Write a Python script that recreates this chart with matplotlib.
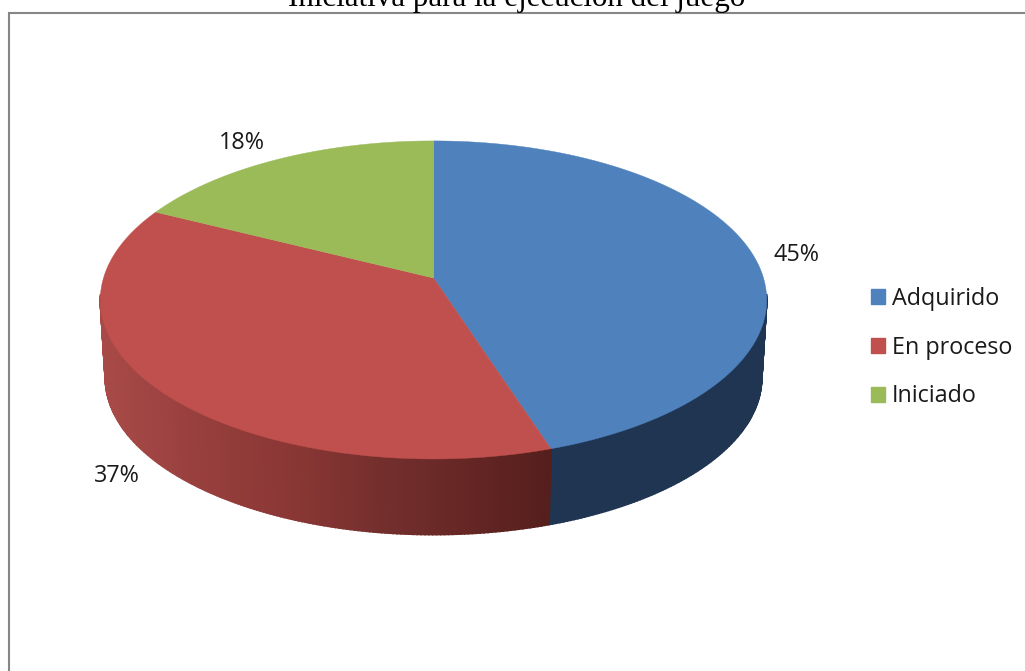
# Pie chart drawn with a tilted perspective, since the original is a 3D spreadsheet pie
import numpy as np
import matplotlib
matplotlib.use('Agg')
import matplotlib.pyplot as plt
from matplotlib.patches import Polygon, Rectangle, Patch

title = 'Iniciativa para la ejecución del juego'
categories = ['Adquirido', 'En proceso', 'Iniciado']
values = [45, 37.4, 17.6]
top_colors = ['#4F81BD', '#C0504D', '#9BBB59']

# side wall shading, by horizontal position
red_x = [100, 200, 300, 380, 450, 550]
red_shades = ['#A84A48', '#973F3D', '#883634', '#742F2D', '#682826', '#551F1D']
blue_side = '#1F3552'


def hex2rgb(c):
    return np.array(matplotlib.colors.to_rgb(c))


# perspective projection of the unit circle into pixels
cx, cy = 433.5, 278.
A, B, a = 330., 156., 0.138


def project(theta):
    u, v = np.sin(theta), np.cos(theta)
    w = 1 + a*v
    return cx + A*u/w, cy - B*v/w


def project_low(theta):
    x, y = project(theta)
    return cx + 0.985*(x-cx), 378 + 0.985*(y-300)


fig = plt.figure(figsize=(10.25, 6.71), dpi=100)
ax = fig.add_axes([0, 0, 1, 1])
ax.set_xlim(0, 1025)
ax.set_ylim(671, 0)
ax.axis('off')

ax.add_patch(Rectangle((9, 13), 1100, 800, fc='white', ec='#868686', lw=1.5))

edges = np.cumsum([0]+values)/np.sum(values)*2*np.pi

# side wall, only the front part of each slice shows
for i in range(len(values)):
    thetas = np.linspace(edges[i], edges[i+1], int(values[i]*6))
    for t0, t1 in zip(thetas[:-1], thetas[1:]):
        if np.cos((t0+t1)/2) > -0.1:
            continue
        x0, y0 = project(t0)
        x1, y1 = project(t1)
        x2, y2 = project_low(t1)
        x3, y3 = project_low(t0)
        if i == 0:
            col = blue_side
        elif i == 1:
            col = [np.interp((x0+x1)/2, red_x, [hex2rgb(c)[k] for c in red_shades]) for k in range(3)]
        else:
            col = top_colors[i]
        ax.add_patch(Polygon([(x0, y0), (x1, y1), (x2, y2), (x3, y3)], fc=col, ec=col, lw=1.2, zorder=2))

# top face
for i in range(len(values)):
    thetas = np.linspace(edges[i], edges[i+1], 200)
    xs, ys = project(thetas)
    pts = [(cx, cy)]+list(zip(xs, ys))
    ax.add_patch(Polygon(pts, fc=top_colors[i], ec=top_colors[i], lw=0.3, zorder=3))

label_pos = [(796, 255), (117, 476), (242, 143)]
for v, pos in zip(values, label_pos):
    ax.text(pos[0], pos[1], f'{round(v)}%', ha='center', va='center', fontsize=16.8,
            family='Open Sans', color='#1a1a1a', zorder=4)

fig.text(516.5/1025, 1-6/671, title, ha='center', va='baseline', fontsize=22.3,
         family='Liberation Serif', color='black')

handles = [Patch(fc=c, ec=c) for c in top_colors]
ax.legend(handles, categories, loc='center left', bbox_to_anchor=(871/1025, 1-347.5/671),
          frameon=False, prop={'family': 'Open Sans', 'size': 16.8}, labelcolor='#1a1a1a',
          handlelength=0.62, handleheight=0.62, handletextpad=0.29, labelspacing=1.07, borderpad=0, borderaxespad=0)

fig.savefig('out.png', dpi=100)
